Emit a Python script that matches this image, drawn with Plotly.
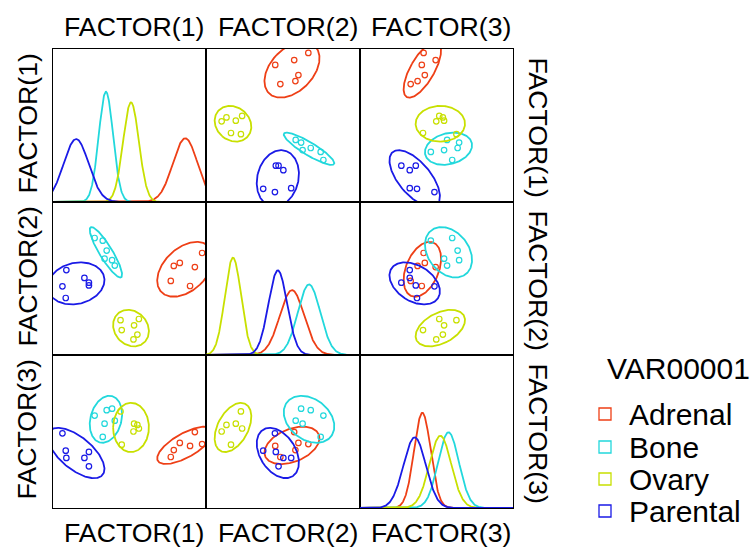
import numpy as np
import plotly.graph_objects as go
from plotly.subplots import make_subplots

# ---------------- data (factor scores) ----------------
groups = ["Adrenal", "Bone", "Ovary", "Parental"]
colors = ["#EE3F16", "#22D8DC", "#C8E000", "#1A1AE6"]
factor_labels = ["FACTOR(1)", "FACTOR(2)", "FACTOR(3)"]
legend_title = "VAR00001"

adrenal_f1 = [2.42, 2.18, 2.02, 1.68, 1.48, 1.38]
adrenal_f2 = [0.85, 0.38, -0.25, 0.52, 0.42, -0.08]
adrenal_f3 = [-0.42, -0.02, -0.48, -0.38, -0.62, -0.85]

bone_f1 = [-0.48, -0.57, -0.75, -0.82, -0.88, -1.15]
bone_f2 = [0.43, 0.61, 0.93, 0.66, 1.26, 1.35]
bone_f3 = [0.36, 0.76, 0.71, 0.26, -0.18, 0.53]

ovary_f1 = [0.32, 0.27, 0.14, 0.16, -0.25, -0.29]
ovary_f2 = [-1.35, -1.87, -2.03, -1.56, -1.72, -1.39]
ovary_f3 = [0.10, 0.22, 0.00, 0.26, -0.44, 0.67]

parental_f1 = [-1.34, -1.34, -1.49, -2.09, -2.11, -2.22]
parental_f2 = [-0.23, -0.14, 0.02, 0.28, -0.65, -0.26]
parental_f3 = [-0.68, -1.16, -0.88, -0.88, -0.64, -0.06]

data = {
    "Adrenal": [adrenal_f1, adrenal_f2, adrenal_f3],
    "Bone": [bone_f1, bone_f2, bone_f3],
    "Ovary": [ovary_f1, ovary_f2, ovary_f3],
    "Parental": [parental_f1, parental_f2, parental_f3],
}

# ---------------- settings ----------------
W, H = 753, 548
AX_RANGE = [-2.55, 2.55]
DENS_RANGE = [0, 2.326]
ELLIPSE_SCALE = 2.26
FONT = "Liberation Sans, Arial, sans-serif"
LABEL_SIZE = 26.7
LEGEND_SIZE = 30

col_px = [(52.5, 206.0), (206.0, 359.5), (359.5, 513.0)]
row_px = [(49.0, 202.0), (202.0, 355.0), (355.0, 508.0)]

fig = make_subplots(rows=3, cols=3, horizontal_spacing=0, vertical_spacing=0)

grid = np.linspace(AX_RANGE[0], AX_RANGE[1], 500)
tt = np.linspace(0, 2 * np.pi, 200)

for r in range(3):
    for c in range(3):
        for g, col in zip(groups, colors):
            vals = [np.array(v, dtype=float) for v in data[g]]
            if r == c:
                v = vals[c]
                m, s = v.mean(), v.std(ddof=1)
                pdf = np.exp(-0.5 * ((grid - m) / s) ** 2) / (s * np.sqrt(2 * np.pi))
                fig.add_trace(go.Scatter(x=grid, y=pdf, mode="lines",
                                         line=dict(color=col, width=1.8),
                                         showlegend=False, hoverinfo="skip"),
                              row=r + 1, col=c + 1)
            else:
                xv, yv = vals[c], vals[r]
                cov = np.cov(np.vstack([xv, yv]))
                ev, evec = np.linalg.eigh(cov)
                L = evec @ np.diag(np.sqrt(np.maximum(ev, 0)))
                pts = L @ np.vstack([np.cos(tt), np.sin(tt)]) * ELLIPSE_SCALE
                ex = pts[0] + xv.mean()
                ey = pts[1] + yv.mean()
                fig.add_trace(go.Scatter(x=ex, y=ey, mode="lines",
                                         line=dict(color=col, width=1.8),
                                         showlegend=False, hoverinfo="skip"),
                              row=r + 1, col=c + 1)
                fig.add_trace(go.Scatter(x=xv, y=yv, mode="markers",
                                         marker=dict(symbol="circle-open", size=5.5,
                                                     color=col, line=dict(width=1.2)),
                                         showlegend=False, hoverinfo="skip"),
                              row=r + 1, col=c + 1)

axis_common = dict(showgrid=False, zeroline=False, showticklabels=False, ticks="",
                   showline=True, mirror=True, linecolor="black", linewidth=1.3)

for r in range(3):
    for c in range(3):
        x0, x1 = col_px[c]
        y0, y1 = row_px[r]
        fig.update_xaxes(domain=[x0 / W, x1 / W], range=AX_RANGE, row=r + 1, col=c + 1,
                         **axis_common)
        fig.update_yaxes(domain=[1 - y1 / H, 1 - y0 / H],
                         range=DENS_RANGE if r == c else AX_RANGE,
                         row=r + 1, col=c + 1, **axis_common)

ann = []
shapes = []
lab_font = dict(size=LABEL_SIZE, color="black", family=FONT)
base = dict(xref="paper", yref="paper", showarrow=False, xanchor="center", yanchor="middle")
for i, lab in enumerate(factor_labels):
    cx = (sum(col_px[i]) / 2 + 5) / W
    cy = 1 - (sum(row_px[i]) / 2 - 2) / H
    ann.append(dict(base, text=lab, x=cx, y=1 - 27 / H, font=lab_font))
    ann.append(dict(base, text=lab, x=cx, y=1 - 533 / H, font=lab_font))
    ann.append(dict(base, text=lab, x=27 / W, y=cy, textangle=-90, font=lab_font))
    ann.append(dict(base, text=lab, x=538 / W, y=1 - (sum(row_px[i]) / 2 + 2) / H,
                    textangle=90, font=lab_font))

# legend drawn manually so it does not push the margins
leg_font = dict(size=LEGEND_SIZE, color="black", family=FONT)
ann.append(dict(base, text=legend_title, x=605 / W, y=1 - 368 / H,
                xanchor="left", font=leg_font))
item_y = [414, 447, 479, 511]
for g, col, yy in zip(groups, colors, item_y):
    shapes.append(dict(type="rect", xref="paper", yref="paper",
                       x0=599 / W, x1=611 / W, y0=1 - (yy + 6) / H, y1=1 - (yy - 6) / H,
                       line=dict(color=col, width=1.3), fillcolor="rgba(0,0,0,0)"))
    ann.append(dict(base, text=g, x=627 / W, y=1 - yy / H, xanchor="left", font=leg_font))

fig.update_layout(
    width=W, height=H,
    margin=dict(l=0, r=0, t=0, b=0),
    paper_bgcolor="white", plot_bgcolor="white",
    font=dict(family=FONT, color="black"),
    annotations=ann, shapes=shapes,
    showlegend=False,
)

fig.write_html("out.html", config={"displayModeBar": False},
               post_script="document.body.style.margin='0px';")
